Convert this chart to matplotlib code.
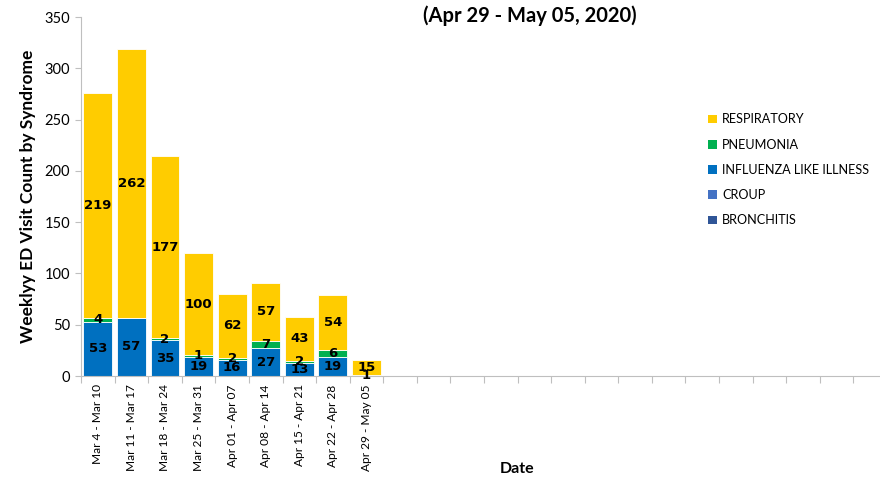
import matplotlib
matplotlib.use("Agg")
import matplotlib.pyplot as plt
import numpy as np
from matplotlib.patches import Patch

WEEKS = ["Mar 4 - Mar 10", "Mar 11 - Mar 17", "Mar 18 - Mar 24", "Mar 25 - Mar 31",
         "Apr 01 - Apr 07", "Apr 08 - Apr 14", "Apr 15 - Apr 21", "Apr 22 - Apr 28",
         "Apr 29 - May 05"]
N_SLOTS = 24  # empty weeks continue past the data
BRONCHITIS = [0, 0, 0, 0, 0, 0, 0, 0, 0]
CROUP = [0, 0, 0, 0, 0, 0, 0, 0, 0]
ILI = [53, 57, 35, 19, 16, 27, 13, 19, 1]
PNEUMONIA = [4, 0, 2, 1, 2, 7, 2, 6, 0]
RESPIRATORY = [219, 262, 177, 100, 62, 57, 43, 54, 15]

# stacking order bottom -> top
SERIES = [
    ("BRONCHITIS", BRONCHITIS, "#2F5597"),
    ("CROUP", CROUP, "#4472C4"),
    ("INFLUENZA LIKE ILLNESS", ILI, "#0070C0"),
    ("PNEUMONIA", PNEUMONIA, "#00B050"),
    ("RESPIRATORY", RESPIRATORY, "#FFCC00"),
]

TXT = "Lato"

fig = plt.figure(figsize=(8.8, 4.78), dpi=100)
ax = fig.add_axes([81 / 880, 102 / 478, 806 / 880, 359 / 478])

x = np.arange(len(WEEKS))
bottom = np.zeros(len(WEEKS))
for name, vals, col in SERIES:
    vals = np.array(vals, dtype=float)
    ax.bar(x, vals, 0.86, bottom=bottom, color=col, edgecolor="white", linewidth=0.6)
    for xi, b, v in zip(x, bottom, vals):
        if v > 0:
            ax.text(xi, b + v / 2, f"{int(v)}", ha="center", va="center",
                    fontsize=9.5, fontweight="bold", color="black", family="DejaVu Sans")
    bottom += vals

ax.set_xlim(-0.5, N_SLOTS - 0.5)
ax.set_ylim(0, 350)
ax.set_yticks(range(0, 351, 50))
ax.tick_params(axis="y", labelsize=10.5, length=4, color="#BFBFBF", pad=4)
for t in ax.get_yticklabels():
    t.set_family(TXT)

ax.set_xticks(np.arange(-0.5, N_SLOTS, 1.0))
ax.set_xticklabels([])
ax.tick_params(axis="x", which="major", length=5, color="#BFBFBF")
ax.set_xticks(x, minor=True)
ax.set_xticklabels(WEEKS, minor=True, rotation=90, fontsize=8.6, family=TXT)
ax.tick_params(axis="x", which="minor", length=0, pad=6)

for s in ("top", "right"):
    ax.spines[s].set_visible(False)
for s in ("left", "bottom"):
    ax.spines[s].set_color("#BFBFBF")

ax.set_ylabel("Weeklyy ED Visit Count by Syndrome", fontsize=12.5, fontweight="bold",
              family=TXT, labelpad=6)
fig.text(517 / 880, 1 - 469 / 478, "Date", ha="center", va="center", fontsize=11.5,
         fontweight="bold", family=TXT)
fig.text(530 / 880, 1 - 16 / 478, "(Apr 29 - May 05, 2020)", ha="center", va="center",
         fontsize=14.5, fontweight="bold", family=TXT)

handles = [Patch(facecolor=col, label=name) for name, _, col in reversed(SERIES)]
fig.legend(handles=handles, loc="upper left", bbox_to_anchor=(697 / 880, 1 - 102 / 478),
           frameon=False, prop={"family": TXT, "size": 9.1}, handlelength=0.7,
           handleheight=0.7, handletextpad=0.4, labelspacing=1.05)

fig.savefig("out.png", dpi=100)
